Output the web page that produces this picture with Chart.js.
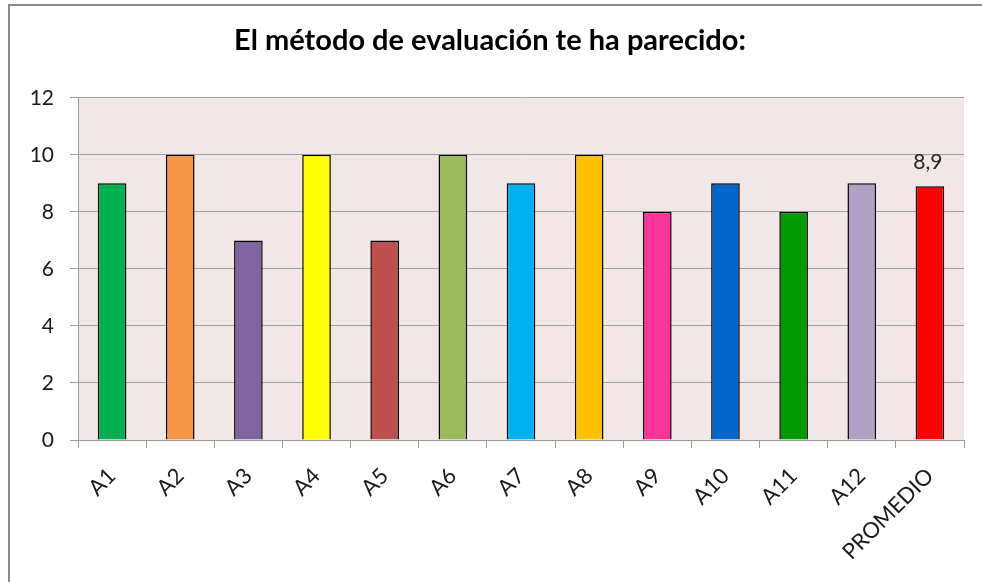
<!DOCTYPE html>
<html>
<head>
<meta charset="utf-8">
<script src="https://cdn.jsdelivr.net/npm/chart.js@4.4.1/dist/chart.umd.min.js"></script>
<style>
    html, body { margin: 0; padding: 0; background: #fff; overflow: hidden; }
    #wrap { position: absolute; left: 0; top: 0; width: 982px; height: 582px; }
    #frame { position: absolute; left: 8px; top: 4px; width: 1000px; height: 700px; border: 2px solid #8a8a8a; pointer-events: none; }
</style>
</head>
<body>
<div id="wrap">
    <canvas id="evalChart" width="982" height="582"></canvas>
    <div id="frame"></div>
</div>
<script>
// Data
const categories = ["A1", "A2", "A3", "A4", "A5", "A6", "A7", "A8", "A9", "A10", "A11", "A12", "PROMEDIO"];
const scores = [9, 10, 7, 10, 7, 10, 9, 10, 8, 9, 8, 9, 8.9];
const barColors = ["#00b050", "#f79646", "#8064a2", "#ffff00", "#c0504d", "#9bbb59", "#00b0f0",
                   "#ffc000", "#ff3399", "#0066cc", "#009900", "#b2a1c7", "#ff0000"];
const yTicks = [0, 2, 4, 6, 8, 10, 12];
const labelledIndex = 12; // only the average bar carries a value label

const fontFamily = "Lato, 'Open Sans', sans-serif";

// Plot background fill
const plotBackground = {
    id: "plotBackground",
    beforeDraw(chart) {
        const a = chart.chartArea;
        const c = chart.ctx;
        c.save();
        c.fillStyle = "#f2e7e7";
        c.fillRect(a.left, a.top, a.right - a.left, a.bottom - a.top);
        c.restore();
    }
};

// Value label over the average bar ("8,9")
const valueLabel = {
    id: "valueLabel",
    afterDatasetsDraw(chart) {
        const bar = chart.getDatasetMeta(0).data[labelledIndex];
        const c = chart.ctx;
        c.save();
        c.font = "21px " + fontFamily;
        c.fillStyle = "#262626";
        c.textAlign = "center";
        c.textBaseline = "alphabetic";
        c.fillText(scores[labelledIndex].toString().replace(".", ","), bar.x - 2, bar.y - 17);
        c.restore();
    }
};

const ctx = document.getElementById("evalChart").getContext("2d");
new Chart(ctx, {
    type: "bar",
    data: {
        labels: categories,
        datasets: [{
            data: scores,
            backgroundColor: barColors,
            borderColor: "#000",
            borderWidth: 1.5,
            barPercentage: 0.7,
            categoryPercentage: 0.6
        }]
    },
    options: {
        responsive: false,
        animation: false,
        events: [],
        layout: { padding: { left: 16, right: 18, top: 0, bottom: 0 } },
        plugins: {
            legend: { display: false },
            tooltip: { enabled: false },
            title: {
                display: true,
                text: "El método de evaluación te ha parecido:",
                color: "#000",
                font: { family: fontFamily, size: 29, weight: "bold" },
                padding: { top: 23, bottom: 40 }
            }
        },
        scales: {
            x: {
                grid: { drawOnChartArea: false, drawTicks: true, tickLength: 8, color: "#9a9a9a", offset: true },
                border: { color: "#9a9a9a", width: 1 },
                ticks: {
                    color: "#1a1a1a",
                    font: { family: fontFamily, size: 22 },
                    minRotation: 45,
                    maxRotation: 45,
                    padding: 15
                },
                afterFit(scale) { scale.height = 142; }
            },
            y: {
                min: 0,
                max: 12,
                afterBuildTicks(scale) { scale.ticks = yTicks.map(v => ({ value: v })); },
                grid: { color: "#a0a0a0", tickLength: 8, lineWidth: 1 },
                border: { color: "#9a9a9a", width: 1 },
                ticks: {
                    color: "#1a1a1a",
                    font: { family: fontFamily, size: 21 },
                    padding: 16
                },
                afterFit(scale) { scale.width = 62; }
            }
        }
    },
    plugins: [plotBackground, valueLabel]
});
</script>
</body>
</html>
